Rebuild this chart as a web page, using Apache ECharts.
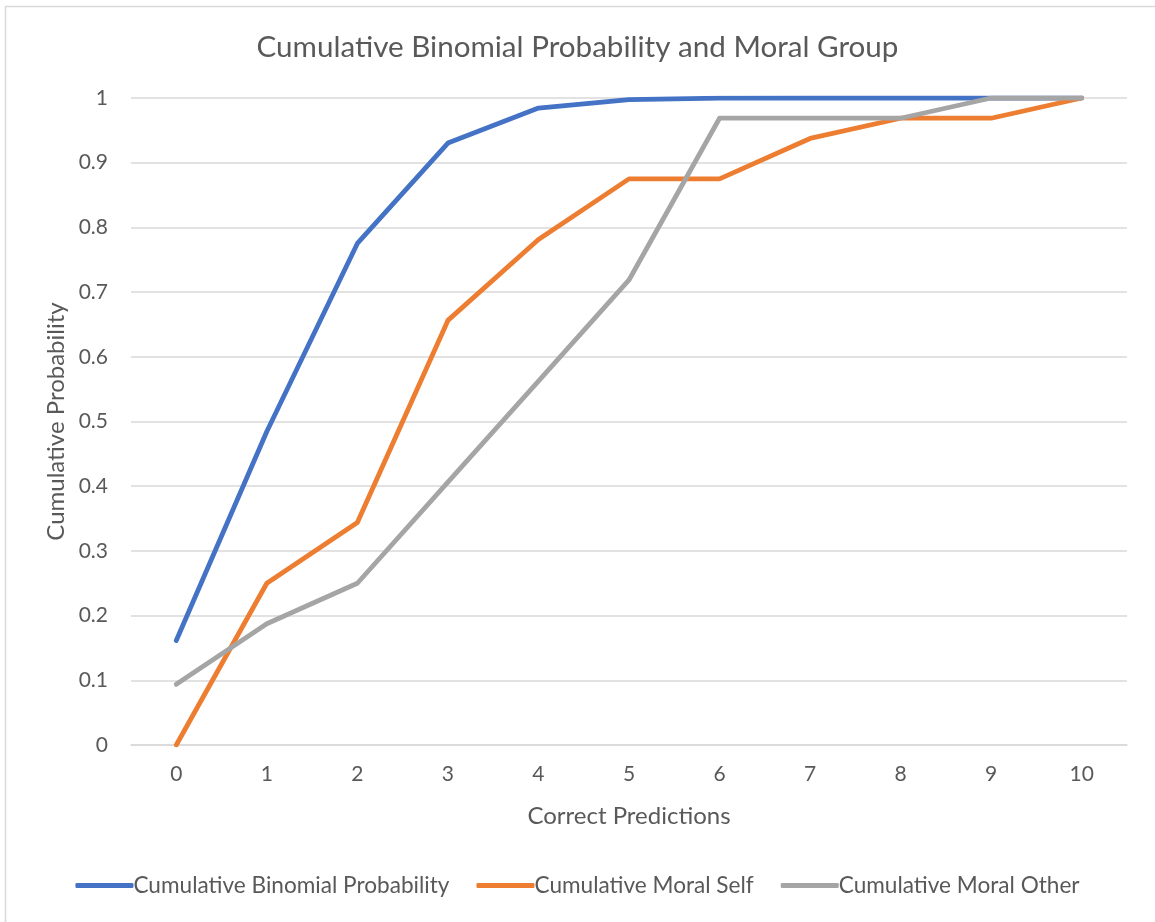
<!DOCTYPE html>
<html>
<head>
<meta charset="utf-8">
<script src="https://cdn.jsdelivr.net/npm/echarts@6/dist/echarts.min.js"></script>
<style>
  html, body { margin: 0; padding: 0; background: #ffffff; }
  #chart { width: 1155px; height: 922px; }
</style>
</head>
<body>
<div id="chart"></div>
<script>
// Number of correct predictions (0–10)
const categories = ['0', '1', '2', '3', '4', '5', '6', '7', '8', '9', '10'];

// Cumulative probabilities per number of correct predictions
const binomial   = [0.1615, 0.4845, 0.7752, 0.9303, 0.9845, 0.9976, 0.9997, 1.0, 1.0, 1.0, 1.0];
const moralSelf  = [0, 0.25, 0.34375, 0.65625, 0.78125, 0.875, 0.875, 0.9375, 0.96875, 0.96875, 1.0];
const moralOther = [0.09375, 0.1875, 0.25, 0.40625, 0.5625, 0.71875, 0.96875, 0.96875, 0.96875, 1.0, 1.0];

const seriesNames = ['Cumulative Binomial Probability', 'Cumulative Moral Self', 'Cumulative Moral Other'];
const colors = ['#4472C4', '#ED7D31', '#A5A5A5'];

const FONT = 'Lato, "Open Sans", sans-serif';
const TEXT = '#595959';

const chart = echarts.init(document.getElementById('chart'), null, { renderer: 'canvas' });

function lineSeries(name, data, color) {
  return {
    name: name,
    type: 'line',
    data: data,
    symbol: 'none',
    smooth: false,
    color: color,
    lineStyle: { width: 4.8, color: color, cap: 'round', join: 'round' }
  };
}

chart.setOption({
  backgroundColor: '#ffffff',
  animation: false,
  graphic: [{
    type: 'rect',
    shape: { x: 5.5, y: 6.5, width: 1200, height: 1000 },
    style: { fill: 'none', stroke: '#D9D9D9', lineWidth: 1.5 },
    silent: true,
    z: -1
  }],
  title: {
    text: 'Cumulative Binomial Probability and Moral Group',
    left: 'center',
    top: 27,
    textStyle: { fontFamily: FONT, fontSize: 29.6, fontWeight: 'normal', color: TEXT }
  },
  legend: {
    data: seriesNames,
    bottom: 20,
    left: 'center',
    itemWidth: 58,
    itemHeight: 5,
    itemGap: 27,
    icon: 'roundRect',
    textStyle: { fontFamily: FONT, fontSize: 22.6, color: TEXT, padding: [0, 0, 0, -5] }
  },
  grid: { left: 131, right: 28, top: 98, bottom: 177, containLabel: false },
  xAxis: {
    type: 'category',
    data: categories,
    boundaryGap: true,
    name: 'Correct Predictions',
    nameLocation: 'middle',
    nameGap: 59,
    nameTextStyle: { fontFamily: FONT, fontSize: 24, color: TEXT },
    axisLine: { show: true, lineStyle: { color: '#D9D9D9', width: 1.5 } },
    axisTick: { show: false },
    axisLabel: { fontFamily: FONT, fontSize: 21, color: TEXT, margin: 19 }
  },
  yAxis: {
    type: 'value',
    min: 0,
    max: 1,
    interval: 0.1,
    name: 'Cumulative Probability',
    nameLocation: 'middle',
    nameGap: 62,
    nameTextStyle: { fontFamily: FONT, fontSize: 24, color: TEXT },
    axisLine: { show: false },
    axisTick: { show: false },
    axisLabel: {
      fontFamily: FONT, fontSize: 21, color: TEXT, margin: 23,
      formatter: function (v) { return String(parseFloat(v.toFixed(1))); }
    },
    splitLine: { lineStyle: { color: '#D9D9D9', width: 1.5 } }
  },
  series: [
    lineSeries(seriesNames[0], binomial, colors[0]),
    lineSeries(seriesNames[1], moralSelf, colors[1]),
    lineSeries(seriesNames[2], moralOther, colors[2])
  ]
});
</script>
</body>
</html>
